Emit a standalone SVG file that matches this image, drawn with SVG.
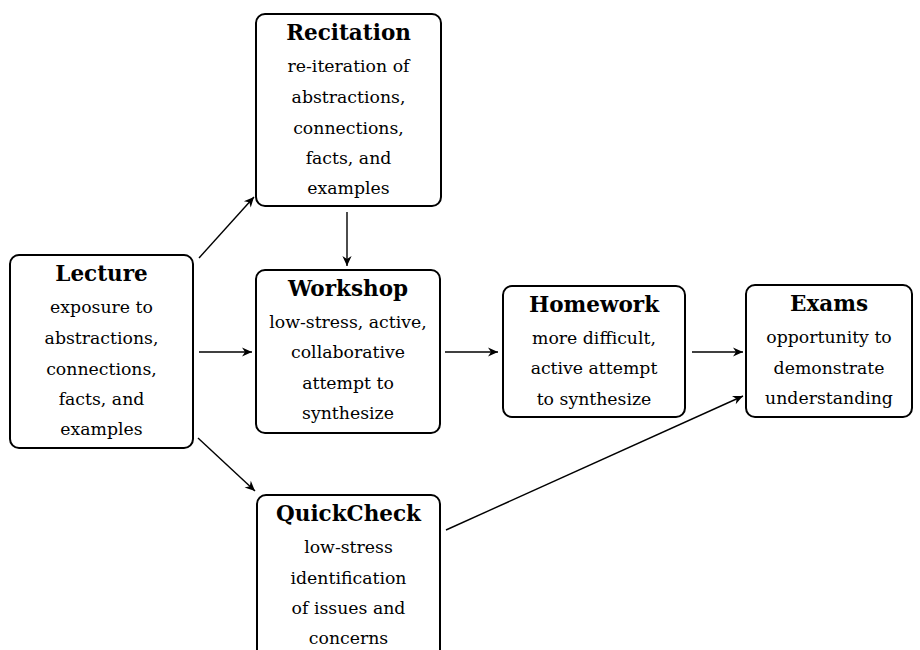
<svg xmlns="http://www.w3.org/2000/svg" width="920" height="650" viewBox="0 0 920 650">
  <defs>
    <marker id="tip" markerUnits="userSpaceOnUse" markerWidth="14" markerHeight="12" viewBox="-12 -6 14 12" refX="0" refY="0" orient="auto">
      <path d="M0,0 L-10,-4.6 L-7,0 L-10,4.6 Z" fill="#000"/>
    </marker>
  </defs>
  <style>
    .box { fill: #fff; stroke: #000; stroke-width: 2; }
    .title { font-family: "DejaVu Serif", serif; font-weight: bold; font-size: 21.5px; text-anchor: middle; fill: #000; }
    .body { font-family: "DejaVu Serif", serif; font-size: 17.3px; text-anchor: middle; fill: #000; }
    .edge { stroke: #000; stroke-width: 1.4; fill: none; marker-end: url(#tip); }
  </style>
  <rect width="920" height="650" fill="#fff"/>

  <g id="connectors">
    <line class="edge" x1="199" y1="258" x2="254" y2="197"/>
    <line class="edge" x1="347" y1="212" x2="347" y2="266"/>
    <line class="edge" x1="199" y1="352" x2="252" y2="352"/>
    <line class="edge" x1="445" y1="352" x2="498" y2="352"/>
    <line class="edge" x1="692" y1="352" x2="743" y2="352"/>
    <line class="edge" x1="198" y1="438" x2="255" y2="491"/>
    <line class="edge" x1="446" y1="530" x2="743" y2="396"/>
  </g>

  <g id="lecture">
    <rect class="box" x="10" y="255" width="183" height="193" rx="9"/>
    <text class="title" x="101.5" y="281">Lecture</text>
    <text class="body" x="101.5" y="313">exposure to</text>
    <text class="body" x="101.5" y="344">abstractions,</text>
    <text class="body" x="101.5" y="375">connections,</text>
    <text class="body" x="101.5" y="405">facts, and</text>
    <text class="body" x="101.5" y="435">examples</text>
  </g>

  <g id="recitation">
    <rect class="box" x="256" y="14" width="185" height="192" rx="9"/>
    <text class="title" x="348.5" y="40">Recitation</text>
    <text class="body" x="348.5" y="72">re-iteration of</text>
    <text class="body" x="348.5" y="103">abstractions,</text>
    <text class="body" x="348.5" y="134">connections,</text>
    <text class="body" x="348.5" y="164">facts, and</text>
    <text class="body" x="348.5" y="194">examples</text>
  </g>

  <g id="workshop">
    <rect class="box" x="256" y="270" width="184" height="163" rx="9"/>
    <text class="title" x="348" y="296">Workshop</text>
    <text class="body" x="348" y="328">low-stress, active,</text>
    <text class="body" x="348" y="358">collaborative</text>
    <text class="body" x="348" y="389">attempt to</text>
    <text class="body" x="348" y="419">synthesize</text>
  </g>

  <g id="homework">
    <rect class="box" x="503" y="286" width="182" height="131" rx="9"/>
    <text class="title" x="594" y="312">Homework</text>
    <text class="body" x="594" y="344">more difficult,</text>
    <text class="body" x="594" y="374">active attempt</text>
    <text class="body" x="594" y="405">to synthesize</text>
  </g>

  <g id="exams">
    <rect class="box" x="746" y="285" width="166" height="132" rx="9"/>
    <text class="title" x="829" y="311">Exams</text>
    <text class="body" x="829" y="343">opportunity to</text>
    <text class="body" x="829" y="374">demonstrate</text>
    <text class="body" x="829" y="404">understanding</text>
  </g>

  <g id="quickcheck">
    <rect class="box" x="257" y="495" width="183" height="193" rx="9"/>
    <text class="title" x="348.5" y="521">QuickCheck</text>
    <text class="body" x="348.5" y="553">low-stress</text>
    <text class="body" x="348.5" y="584">identification</text>
    <text class="body" x="348.5" y="614">of issues and</text>
    <text class="body" x="348.5" y="644">concerns</text>
  </g>
</svg>
